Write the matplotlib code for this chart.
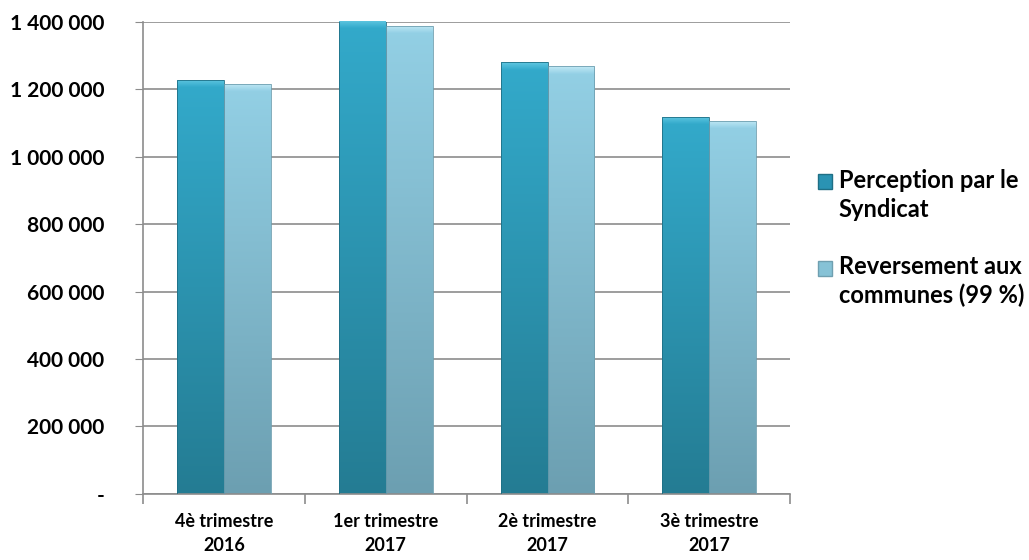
import numpy as np
import matplotlib
matplotlib.use("Agg")
import matplotlib.pyplot as plt
from matplotlib.ticker import FuncFormatter

categories = ["4è trimestre\n2016", "1er trimestre\n2017", "2è trimestre\n2017", "3è trimestre\n2017"]
perception = [1228000, 1403000, 1281000, 1118000]
reversement = [1216000, 1389000, 1268000, 1107000]
series_names = ["Perception par le\nSyndicat", "Reversement aux\ncommunes (99 %)"]

plt.rcParams['font.family'] = ['Lato', 'DejaVu Sans']
plt.rcParams['font.weight'] = 'bold'

fig = plt.figure(figsize=(10.29, 5.6), dpi=100)
ax = fig.add_axes([0.139, 0.118, 0.629, 0.843])

x = np.arange(len(categories))
w = 0.29
c_top = ["#33aacb", "#93d0e5"]
c_bot = ["#247c93", "#6c9fb1"]
c_cap = ["#62c8e2", "#c4eaf6"]

def grad_bar(ax, bars, top, bot, cap):
    cmap = matplotlib.colors.LinearSegmentedColormap.from_list("g", [bot, top])
    ymax = ax.get_ylim()[1]
    for b in bars:
        x0, y0 = b.get_x(), b.get_y()
        bw, bh = b.get_width(), b.get_height()
        g = np.linspace(0, 1, 256).reshape(-1, 1)
        im = ax.imshow(g, cmap=cmap, origin="lower", aspect="auto",
                       extent=[x0, x0 + bw, y0, y0 + bh], zorder=2)
        im.set_clip_path(b)
        # light bevel at the top of the bar
        cm2 = matplotlib.colors.LinearSegmentedColormap.from_list("c", [top, cap])
        h = 0.016 * ymax
        im2 = ax.imshow(g, cmap=cm2, origin="lower", aspect="auto",
                        extent=[x0, x0 + bw, y0 + bh - h, y0 + bh], zorder=2.5)
        im2.set_clip_path(b)
        b.set_facecolor("none")

ax.set_xlim(-0.5, len(categories) - 0.5)
ax.set_ylim(0, 1400000)

b1 = ax.bar(x - w / 2, perception, w, color=c_top[0], edgecolor="#1f6f85",
            linewidth=0.6, label=series_names[0], zorder=3)
b2 = ax.bar(x + w / 2, reversement, w, color=c_top[1], edgecolor="#6f9fb0",
            linewidth=0.6, label=series_names[1], zorder=3)
grad_bar(ax, b1, c_top[0], c_bot[0], c_cap[0])
grad_bar(ax, b2, c_top[1], c_bot[1], c_cap[1])

ax.set_xlim(-0.5, len(categories) - 0.5)
ax.set_ylim(0, 1400000)
ax.set_yticks(np.arange(0, 1400001, 200000))

def fmt(v, pos):
    if v == 0:
        return "-"
    return "{:,.0f}".format(v).replace(",", " ")
ax.yaxis.set_major_formatter(FuncFormatter(fmt))

ax.yaxis.grid(True, color="#8c8c8c", linewidth=1.2, zorder=0)
ax.set_axisbelow(True)
for s in ["top", "right"]:
    ax.spines[s].set_visible(False)
for s in ["left", "bottom"]:
    ax.spines[s].set_color("#8c8c8c")
    ax.spines[s].set_linewidth(1.2)

ax.tick_params(axis="y", length=6, color="#8c8c8c", pad=22, labelsize=15)
ax.set_xticks(x)
ax.set_xticklabels(categories, fontsize=13, linespacing=1.5)
ax.tick_params(axis="x", which="major", length=0, pad=14)
ax.set_xticks(np.arange(-0.5, len(categories)), minor=True)
ax.tick_params(axis="x", which="minor", length=7, color="#8c8c8c", width=1.2)

h1 = matplotlib.patches.Patch(facecolor="#2a93b3", edgecolor="#1f6f85")
h2 = matplotlib.patches.Patch(facecolor="#86c2d6", edgecolor="#6f9fb0")
leg = fig.legend([h1, h2], series_names, loc="center left", bbox_to_anchor=(0.774, 0.575),
                 frameon=False, fontsize=17, labelspacing=1.45, handlelength=0.6,
                 handleheight=0.6, handletextpad=0.3)
for t in leg.get_texts():
    t.set_linespacing(1.3)
for hp in leg.legend_handles:
    hp.set_y(hp.get_y() + 10)

fig.savefig("out.png", dpi=100)
